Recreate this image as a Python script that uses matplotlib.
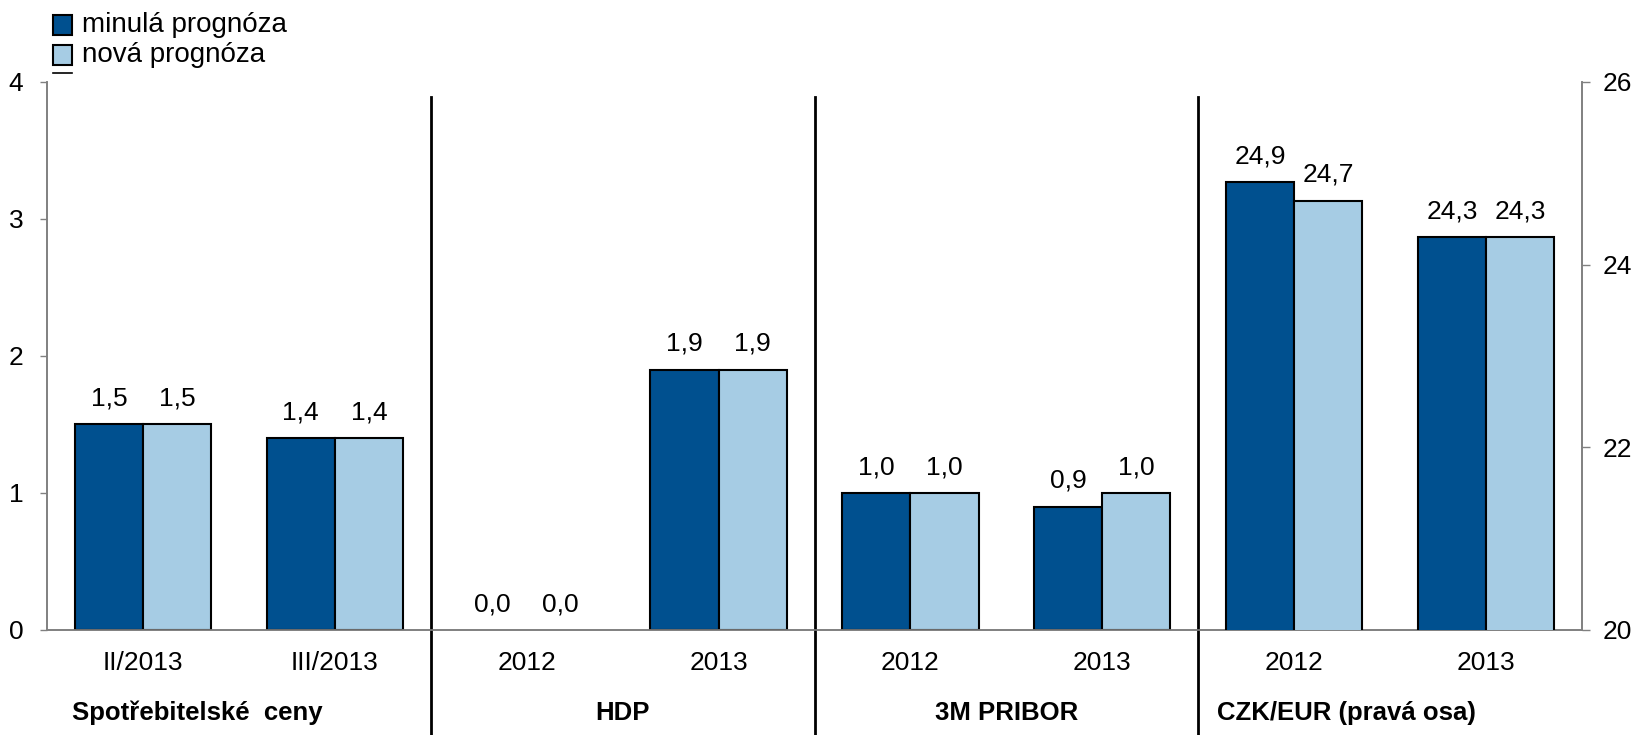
import matplotlib
matplotlib.use("Agg")
import matplotlib.pyplot as plt
import matplotlib.transforms as mtransforms
from matplotlib.patches import Rectangle
from matplotlib.lines import Line2D
import numpy as np

plt.rcParams['font.family'] = ['Liberation Sans', 'DejaVu Sans']

# forecast comparison data
tick_labels = ['II/2013', 'III/2013', '2012', '2013', '2012', '2013', '2012', '2013']
group_names = ['Spotřebitelské  ceny', 'HDP', '3M PRIBOR', 'CZK/EUR (pravá osa)']
series_names = ['minulá prognóza', 'nová prognóza']
old_forecast = [1.5, 1.4, 0.0, 1.9, 1.0, 0.9, 24.9, 24.3]
new_forecast = [1.5, 1.4, 0.0, 1.9, 1.0, 1.0, 24.7, 24.3]
right_axis_from = 6  # CZK/EUR categories use the right axis

dark_blue = '#00508F'
light_blue = '#A6CCE4'
grey = '#808080'

W, H = 1633, 735
fig = plt.figure(figsize=(W / 100, H / 100), dpi=100)
ax = fig.add_axes([0.0288, 0.1429, 0.9400, 0.7456])
ax2 = ax.twinx()

x = np.arange(len(tick_labels))
w = 0.355


def fmt(v):
    return f"{v:.1f}".replace('.', ',')


def draw_bars(axis, idx, vals, offset, color):
    xs = x[idx] + offset
    lw = [0 if v == 0 else 1.5 for v in vals]
    axis.bar(xs, vals, width=w, align='edge', color=color, edgecolor='black',
             linewidth=lw, zorder=3)
    for xx, v in zip(xs, vals):
        axis.annotate(fmt(v), (xx + w / 2, v), xytext=(0, 13.5),
                      textcoords='offset points', ha='center', va='baseline',
                      fontsize=19)


left_idx = list(range(right_axis_from))
right_idx = list(range(right_axis_from, len(tick_labels)))

draw_bars(ax, left_idx, old_forecast[:right_axis_from], -w, dark_blue)
draw_bars(ax, left_idx, new_forecast[:right_axis_from], 0, light_blue)
draw_bars(ax2, right_idx, old_forecast[right_axis_from:], -w, dark_blue)
draw_bars(ax2, right_idx, new_forecast[right_axis_from:], 0, light_blue)

ax.set_xlim(-0.5, len(tick_labels) - 0.5)
ax.set_ylim(0, 4)
ax.set_yticks([0, 1, 2, 3, 4])
ax2.set_ylim(20, 26)
ax2.set_yticks([20, 22, 24, 26])

ax.set_xticks(x)
ax.set_xticklabels(tick_labels)
ax.tick_params(axis='x', length=0, pad=15, labelsize=19)
ax.tick_params(axis='y', length=5, width=1, color=grey, pad=12, labelsize=19)
ax2.tick_params(axis='y', length=6, width=1, color=grey, pad=9, labelsize=19)

for a in (ax, ax2):
    a.spines['top'].set_visible(False)
    for s in ('left', 'right', 'bottom'):
        a.spines[s].set_color(grey)
        a.spines[s].set_linewidth(1.2)

# group separators
for b in (1.5, 3.5, 5.5):
    ax.axvline(b, ymin=-0.2, ymax=0.973, color='black', lw=2, clip_on=False, zorder=5)

# group names below the category labels
trans = mtransforms.blended_transform_factory(ax.transData, ax.transAxes)
group_pos = [(-0.37, 'left'), (2.5, 'center'), (4.5, 'center'), (5.60, 'left')]
for name, (gx, ha) in zip(group_names, group_pos):
    ax.text(gx, -0.151, name, transform=trans, ha=ha, va='center',
            fontsize=18.5, fontweight='bold')

# legend, placed by hand in figure pixels
for i, (name, color) in enumerate(zip(series_names, [dark_blue, light_blue])):
    yc = 25 + 30 * i
    fig.add_artist(Rectangle((53 / W, 1 - (yc + 9.5) / H), 19 / W, 19 / H,
                             transform=fig.transFigure, facecolor=color,
                             edgecolor='black', linewidth=1.5))
    fig.text(82 / W, 1 - yc / H, name, ha='left', va='center', fontsize=20)
fig.add_artist(Line2D([53 / W, 72 / W], [1 - 73 / H, 1 - 73 / H],
                      transform=fig.transFigure, color='black', lw=1.2))

fig.savefig('out.png', dpi=100)
